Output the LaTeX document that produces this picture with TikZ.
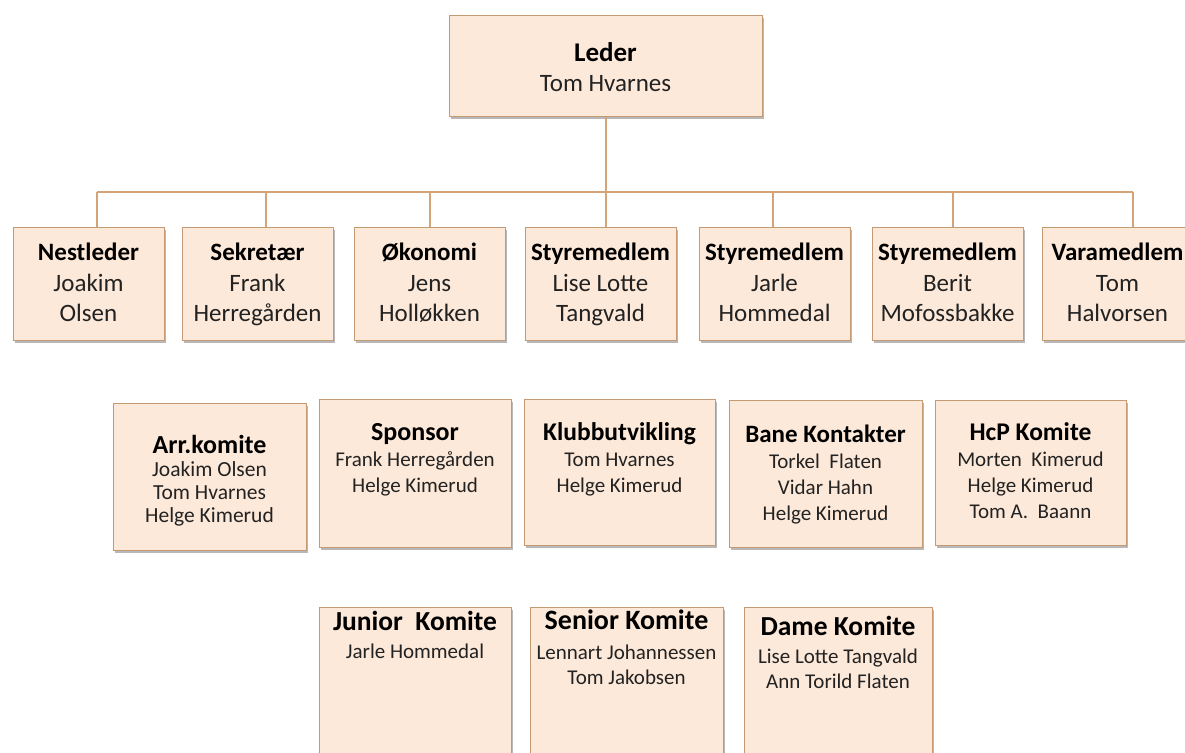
\documentclass[tikz,border=0pt]{standalone}
\usepackage{fontspec}
\setmainfont{Carlito}
\usetikzlibrary{shadows}
\definecolor{boxfill}{RGB}{253,233,217}
\definecolor{boxline}{RGB}{196,154,116}
\definecolor{connc}{RGB}{214,162,120}
\definecolor{txt}{RGB}{34,34,34}
\tikzset{
  orgbox/.style={draw=boxline, fill=boxfill, line width=0.9pt, inner sep=0pt, anchor=north west,
    drop shadow={shadow xshift=1.5pt, shadow yshift=-3pt, opacity=0.28, fill=black}},
  orgtext/.style={anchor=base, inner sep=0pt, text=txt},
  connector/.style={draw=connc, line width=1.2pt}
}
\newcommand\obox[5]{\node[orgbox, minimum width={(#4)-(#2)}, minimum height={(#5)-(#3)}] (#1) at (#2,#3) {};}
\newcommand\otext[5]{\node[orgtext] (#1) at (#2,#3) {\fontsize{10}{#4}\selectfont\setlength\tabcolsep{0pt}\begin{tabular}[t]{c}#5\end{tabular}};}
\newcommand\hdg[2]{\fontsize{#1}{#1}\selectfont\bfseries\color{black}#2}
\newcommand\nm[2]{\fontsize{#1}{#1}\selectfont #2}
\begin{document}
\begin{tikzpicture}[x=1pt,y=-1pt]
\clip (0,0) rectangle (1185,752);
\fill[white] (0,0) rectangle (1185,752);

% top
\obox{leder}{449}{15}{762}{116}
\otext{ledert}{605.5}{61}{30}{\hdg{27}{Leder}\\ \nm{25}{Tom Hvarnes}}

% row 1
\obox{nest}{13}{227}{164}{340}
\obox{sek}{182}{227}{333}{340}
\obox{oko}{354}{227}{505}{340}
\obox{sty1}{525}{227}{676}{340}
\obox{sty2}{699}{227}{850}{340}
\obox{sty3}{872}{227}{1023}{340}
\obox{vara}{1042}{227}{1193}{340}

\otext{nestt}{88.5}{260}{29.5}{\hdg{25}{Nestleder}\\[2pt] \nm{25}{Joakim}\\ \nm{25}{Olsen}}
\otext{sekt}{257.5}{260}{29.5}{\hdg{25}{Sekretær}\\[2pt] \nm{25}{Frank}\\ \nm{25}{Herregården}}
\otext{okot}{429.5}{260}{29.5}{\hdg{25}{Økonomi}\\[2pt] \nm{25}{Jens}\\ \nm{25}{Holløkken}}
\otext{sty1t}{600.5}{260}{29.5}{\hdg{25}{Styremedlem}\\[2pt] \nm{25}{Lise Lotte}\\ \nm{25}{Tangvald}}
\otext{sty2t}{774.5}{260}{29.5}{\hdg{25}{Styremedlem}\\[2pt] \nm{25}{Jarle}\\ \nm{25}{Hommedal}}
\otext{sty3t}{947.5}{260}{29.5}{\hdg{25}{Styremedlem}\\[2pt] \nm{25}{Berit}\\ \nm{25}{Mofossbakke}}
\otext{varat}{1117.5}{260}{29.5}{\hdg{25}{Varamedlem}\\[2pt] \nm{25}{Tom}\\ \nm{25}{Halvorsen}}

% connectors
\coordinate (b1) at (97,192);
\coordinate (b2) at (266,192);
\coordinate (b3) at (430,192);
\coordinate (b4) at (606,192);
\coordinate (b5) at (773,192);
\coordinate (b6) at (953,192);
\coordinate (b7) at (1133,192);
\draw[connector] (leder.south -| b4) -- (b4);
\draw[connector] (b1) -- (b7);
\draw[connector] (b1) -- (b1 |- nest.north);
\draw[connector] (b2) -- (b2 |- sek.north);
\draw[connector] (b3) -- (b3 |- oko.north);
\draw[connector] (b4) -- (b4 |- sty1.north);
\draw[connector] (b5) -- (b5 |- sty2.north);
\draw[connector] (b6) -- (b6 |- sty3.north);
\draw[connector] (b7) -- (b7 |- vara.north);

% row 2
\obox{arr}{113}{403}{306}{550}
\obox{spon}{319}{399}{511}{547}
\obox{klubb}{524}{399}{715}{545}
\obox{bane}{729}{400}{922}{547}
\obox{hcp}{935}{400}{1126}{545}

\otext{arrt}{209.5}{453}{23}{\hdg{26}{Arr.komite}\\ \nm{21.5}{Joakim Olsen}\\ \nm{21.5}{Tom Hvarnes}\\ \nm{21.5}{Helge Kimerud}}
\otext{spont}{415}{440}{26}{\hdg{26}{Sponsor}\\ \nm{21}{Frank Herregården}\\ \nm{21}{Helge Kimerud}}
\otext{klubbt}{619.5}{440}{26}{\hdg{25.5}{Klubbutvikling}\\ \nm{21}{Tom Hvarnes}\\ \nm{21}{Helge Kimerud}}
\otext{banet}{825.5}{442}{26}{\hdg{25}{Bane Kontakter}\\ \nm{21}{Torkel\ \ Flaten}\\ \nm{21}{Vidar Hahn}\\ \nm{21}{Helge Kimerud}}
\otext{hcpt}{1030.5}{440}{26}{\hdg{25.5}{HcP Komite}\\ \nm{21}{Morten\ \ Kimerud}\\ \nm{21}{Helge Kimerud}\\ \nm{21}{Tom A.\ \ Baann}}

% row 3
\obox{junior}{319}{607}{511}{775}
\obox{senior}{530}{607}{723}{775}
\obox{dame}{744}{607}{932}{775}

\otext{juniort}{415}{630}{25}{\hdg{27.5}{Junior\ \ Komite}\\[3pt] \nm{21}{Jarle Hommedal}}
\otext{seniort}{626.5}{629}{25}{\hdg{28}{Senior Komite}\\[5pt] \nm{21}{Lennart Johannessen}\\ \nm{21}{Tom Jakobsen}}
\otext{damet}{838}{635}{25}{\hdg{27.5}{Dame Komite}\\[3pt] \nm{21}{Lise Lotte Tangvald}\\ \nm{21}{Ann Torild Flaten}}
\end{tikzpicture}
\end{document}
